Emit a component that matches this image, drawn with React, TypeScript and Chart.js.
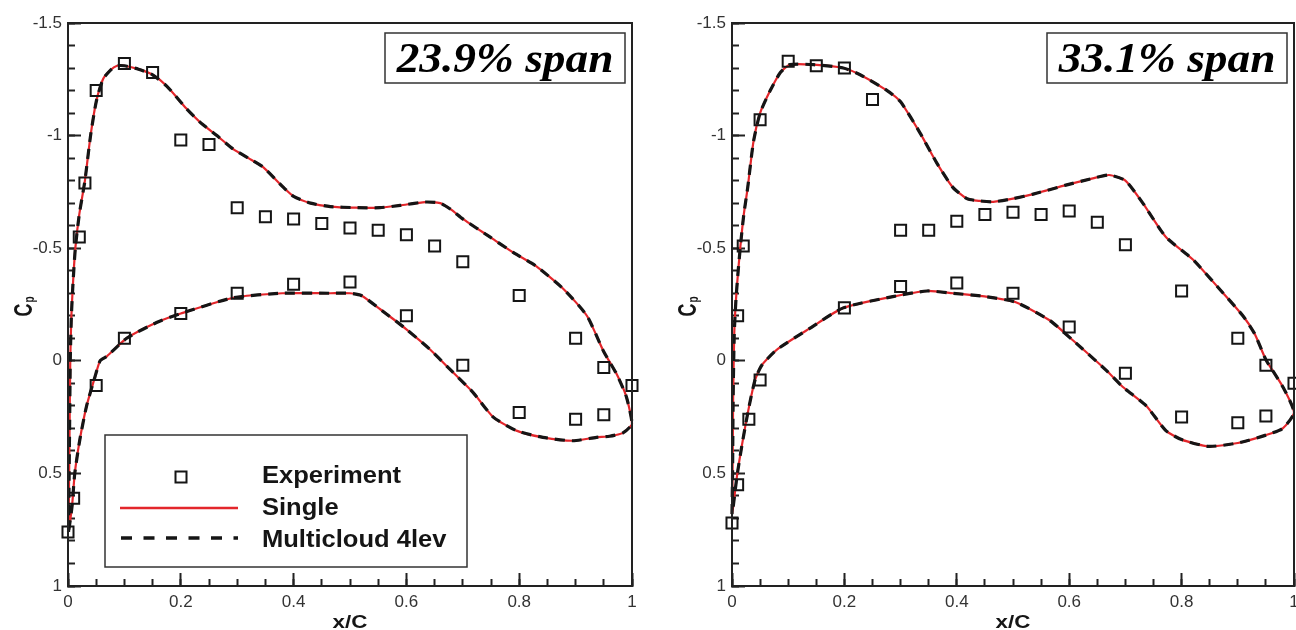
import React, { useEffect, useRef } from 'react';
import { Chart, registerables } from 'chart.js';

Chart.register(...registerables);

// ---------- axes ----------
const xMajorTicks = [0, 0.2, 0.4, 0.6, 0.8, 1];
const xTickLabels = ['0', '0.2', '0.4', '0.6', '0.8', '1'];
const xMinorTicks = [0, 0.05, 0.1, 0.15, 0.2, 0.25, 0.3, 0.35, 0.4, 0.45, 0.5, 0.55, 0.6, 0.65, 0.7, 0.75, 0.8, 0.85, 0.9, 0.95, 1];
const yMajorTicks = [-1.5, -1, -0.5, 0, 0.5, 1];
const yTickLabels = ['-1.5', '-1', '-0.5', '0', '0.5', '1'];
const yMinorTicks = [-1.5, -1.4, -1.3, -1.2, -1.1, -1, -0.9, -0.8, -0.7, -0.6, -0.5, -0.4, -0.3, -0.2, -0.1, 0, 0.1, 0.2, 0.3, 0.4, 0.5, 0.6, 0.7, 0.8, 0.9, 1];

const legendLabels = ['Experiment', 'Single', 'Multicloud 4lev'];
const panelTitles = ['23.9% span', '33.1% span'];
const xAxisTitle = 'x/C';

// ---------- 23.9% span ----------
const exp239X = [0.02, 0.03, 0.05, 0.1, 0.15, 0.2, 0.25, 0.3, 0.35, 0.4, 0.45, 0.5, 0.55, 0.6, 0.65, 0.7, 0.8, 0.9, 0.95, 1.0,
  0.0, 0.01, 0.05, 0.1, 0.2, 0.3, 0.4, 0.5, 0.6, 0.7, 0.8, 0.9, 0.95];
const exp239Cp = [-0.55, -0.79, -1.2, -1.32, -1.28, -0.98, -0.96, -0.68, -0.64, -0.63, -0.61, -0.59, -0.58, -0.56, -0.51, -0.44, -0.29, -0.1, 0.03, 0.11,
  0.76, 0.61, 0.11, -0.1, -0.21, -0.3, -0.34, -0.35, -0.2, 0.02, 0.23, 0.26, 0.24];

const single239X = [0.001, 0.002, 0.003, 0.004, 0.006, 0.009, 0.013, 0.02, 0.03, 0.04, 0.05, 0.062, 0.075, 0.087, 0.1, 0.125, 0.15, 0.175, 0.21, 0.234,
  0.264, 0.293, 0.32, 0.346, 0.382, 0.4, 0.43, 0.465, 0.51, 0.553, 0.589, 0.633, 0.66, 0.68, 0.7, 0.748, 0.79, 0.83, 0.878, 0.92,
  0.95, 0.973, 0.99, 1.0,
  0.984, 0.96, 0.937, 0.895, 0.842, 0.795, 0.754, 0.718, 0.672, 0.642, 0.6, 0.553, 0.52, 0.5, 0.465, 0.38, 0.293, 0.2, 0.157, 0.104,
  0.069, 0.057, 0.048, 0.033, 0.021, 0.012, 0.007, 0.001];
const single239Cp = [0.76, 0.5, 0.25, 0.0, -0.2, -0.35, -0.5, -0.65, -0.8, -1.0, -1.15, -1.25, -1.29, -1.31, -1.31, -1.295, -1.27, -1.22, -1.12, -1.06,
  -1.0, -0.94, -0.9, -0.86, -0.77, -0.73, -0.7, -0.685, -0.68, -0.68, -0.69, -0.705, -0.7, -0.67, -0.63, -0.55, -0.48, -0.42, -0.32, -0.2,
  -0.04, 0.06, 0.16, 0.28,
  0.32, 0.335, 0.34, 0.355, 0.34, 0.31, 0.25, 0.14, 0.025, -0.05, -0.14, -0.23, -0.29, -0.3, -0.3, -0.3, -0.28, -0.21, -0.17, -0.1,
  -0.02, 0.0, 0.07, 0.2, 0.35, 0.5, 0.65, 0.76];
const multi239X = single239X;
const multi239Cp = single239Cp;

// ---------- 33.1% span ----------
const exp331X = [0.01, 0.02, 0.05, 0.1, 0.15, 0.2, 0.25, 0.3, 0.35, 0.4, 0.45, 0.5, 0.55, 0.6, 0.65, 0.7, 0.8, 0.9, 0.95, 1.0,
  0.0, 0.01, 0.03, 0.05, 0.2, 0.3, 0.4, 0.5, 0.6, 0.7, 0.8, 0.9, 0.95];
const exp331Cp = [-0.2, -0.51, -1.07, -1.33, -1.31, -1.3, -1.16, -0.58, -0.58, -0.62, -0.65, -0.66, -0.65, -0.665, -0.615, -0.515, -0.31, -0.1, 0.02, 0.1,
  0.72, 0.55, 0.26, 0.085, -0.235, -0.33, -0.345, -0.3, -0.15, 0.055, 0.25, 0.275, 0.245];

const single331X = [0.0, 0.001, 0.002, 0.004, 0.007, 0.011, 0.015, 0.021, 0.028, 0.038, 0.05, 0.068, 0.086, 0.103, 0.145, 0.198, 0.228, 0.276, 0.3, 0.335,
  0.364, 0.393, 0.418, 0.441, 0.465, 0.5, 0.536, 0.594, 0.642, 0.671, 0.7, 0.731, 0.772, 0.82, 0.867, 0.909, 0.93, 0.95, 0.98, 1.0,
  0.98, 0.95, 0.9, 0.848, 0.8, 0.772, 0.737, 0.695, 0.665, 0.607, 0.565, 0.505, 0.452, 0.393, 0.347, 0.286, 0.198, 0.139, 0.08, 0.053,
  0.041, 0.029, 0.018, 0.009, 0.002, 0.0];
const single331Cp = [0.68, 0.5, 0.17, -0.12, -0.27, -0.4, -0.51, -0.65, -0.77, -0.97, -1.1, -1.2, -1.28, -1.315, -1.315, -1.3, -1.27, -1.2, -1.15, -1.01,
  -0.88, -0.77, -0.72, -0.71, -0.706, -0.72, -0.74, -0.78, -0.81, -0.825, -0.8, -0.7, -0.55, -0.45, -0.32, -0.2, -0.12, -0.005, 0.115, 0.23,
  0.3, 0.33, 0.365, 0.38, 0.35, 0.31, 0.2, 0.115, 0.04, -0.09, -0.18, -0.26, -0.285, -0.3, -0.31, -0.285, -0.235, -0.145, -0.05, 0.02,
  0.085, 0.22, 0.37, 0.51, 0.65, 0.68];
const multi331X = single331X;
const multi331Cp = single331Cp;

// ---------- styling ----------
const RED = '#e3262b';
const INK = '#151515';
const SANS = '"Liberation Sans", Arial, sans-serif';
const SERIF = '"Liberation Serif", "Times New Roman", serif';

const toPts = (xs: number[], ys: number[]) => xs.map((x, i) => ({ x, y: ys[i] }));

function stretchText(ctx: CanvasRenderingContext2D, text: string, x: number, y: number, sx: number, align: CanvasTextAlign) {
  ctx.save();
  ctx.translate(x, y);
  ctx.scale(sx, 1);
  ctx.textAlign = align;
  ctx.fillText(text, 0, 0);
  ctx.restore();
}

type PanelCfg = {
  left: number;
  yAxisWidth: number;
  rightPad: number;
  title: string;
  legend: boolean;
  expX: number[]; expCp: number[];
  singleX: number[]; singleCp: number[];
  multiX: number[]; multiCp: number[];
};

const panels: PanelCfg[] = [
  { left: 0, yAxisWidth: 68, rightPad: 16, title: panelTitles[0], legend: true,
    expX: exp239X, expCp: exp239Cp, singleX: single239X, singleCp: single239Cp, multiX: multi239X, multiCp: multi239Cp },
  { left: 648, yAxisWidth: 84, rightPad: 2, title: panelTitles[1], legend: false,
    expX: exp331X, expCp: exp331Cp, singleX: single331X, singleCp: single331Cp, multiX: multi331X, multiCp: multi331Cp },
];

function makeConfig(p: PanelCfg): any {
  const overlay = {
    id: 'overlay',
    afterDraw(chart: any) {
      const { ctx, chartArea: a } = chart;
      ctx.save();
      // frame
      ctx.strokeStyle = '#222';
      ctx.lineWidth = 2;
      ctx.strokeRect(a.left, a.top, a.right - a.left, a.bottom - a.top);

      // x title
      ctx.fillStyle = INK;
      ctx.textBaseline = 'alphabetic';
      ctx.font = `bold 19px ${SANS}`;
      stretchText(ctx, xAxisTitle, (a.left + a.right) / 2, a.bottom + 42, 1.18, 'center');

      // y title C_p (rotated)
      ctx.save();
      ctx.translate(a.left - 36, (a.top + a.bottom) / 2 + 12);
      ctx.rotate(-Math.PI / 2);
      ctx.scale(1, 1.45);
      ctx.textAlign = 'left';
      ctx.font = `bold 18px ${SANS}`;
      ctx.fillText('C', 0, 0);
      const cw = ctx.measureText('C').width;
      ctx.font = `bold 10px ${SANS}`;
      ctx.fillText('p', cw + 1, 1.5);
      ctx.restore();

      // title box
      const bw = 240, bh = 50;
      const bx = a.right - 7 - bw, by = a.top + 10;
      ctx.fillStyle = '#fff';
      ctx.fillRect(bx, by, bw, bh);
      ctx.strokeStyle = '#333';
      ctx.lineWidth = 1.5;
      ctx.strokeRect(bx, by, bw, bh);
      ctx.fillStyle = '#000';
      ctx.font = `italic bold 42px ${SERIF}`;
      stretchText(ctx, p.title, bx + bw / 2, by + 39, 1.08, 'center');

      // legend
      if (p.legend) {
        const L = a.left, B = a.bottom;
        ctx.fillStyle = '#fff';
        ctx.fillRect(L + 37, B - 151, 362, 132);
        ctx.strokeStyle = '#333';
        ctx.lineWidth = 1.5;
        ctx.strokeRect(L + 37, B - 151, 362, 132);
        // marker
        ctx.strokeStyle = INK;
        ctx.lineWidth = 2;
        ctx.strokeRect(L + 113 - 5.5, B - 109 - 5.5, 11, 11);
        // red solid
        ctx.strokeStyle = RED;
        ctx.lineWidth = 2.5;
        ctx.beginPath();
        ctx.moveTo(L + 52, B - 78);
        ctx.lineTo(L + 170, B - 78);
        ctx.stroke();
        // black dashed
        ctx.strokeStyle = INK;
        ctx.lineWidth = 3.5;
        ctx.setLineDash([11, 11.5]);
        ctx.beginPath();
        ctx.moveTo(L + 53, B - 48);
        ctx.lineTo(L + 170, B - 48);
        ctx.stroke();
        ctx.setLineDash([]);
        // labels
        ctx.fillStyle = INK;
        ctx.font = `bold 23px ${SANS}`;
        stretchText(ctx, legendLabels[0], L + 194, B - 103, 1.11, 'left');
        stretchText(ctx, legendLabels[1], L + 194, B - 71, 1.11, 'left');
        stretchText(ctx, legendLabels[2], L + 194, B - 39, 1.11, 'left');
      }
      ctx.restore();
    },
  };

  const tickFont = { family: SANS, size: 17 };

  return {
    type: 'scatter',
    data: {
      datasets: [
        {
          label: legendLabels[0],
          data: toPts(p.expX, p.expCp),
          pointStyle: 'rect',
          pointRadius: 7.8,
          pointHoverRadius: 7.8,
          borderColor: INK,
          backgroundColor: 'rgba(0,0,0,0)',
          borderWidth: 2,
          showLine: false,
          clip: false,
          order: 0,
        },
        {
          label: legendLabels[2],
          data: toPts(p.multiX, p.multiCp),
          showLine: true,
          borderColor: INK,
          borderWidth: 3.2,
          borderDash: [10, 7],
          pointRadius: 0,
          tension: 0.2,
          clip: false,
          order: 1,
        },
        {
          label: legendLabels[1],
          data: toPts(p.singleX, p.singleCp),
          showLine: true,
          borderColor: RED,
          borderWidth: 2.2,
          pointRadius: 0,
          tension: 0.2,
          clip: false,
          order: 2,
        },
      ],
    },
    options: {
      animation: false,
      responsive: false,
      devicePixelRatio: 1,
      layout: { autoPadding: false, padding: { left: 0, top: 23, right: p.rightPad, bottom: 0 } },
      plugins: { legend: { display: false }, tooltip: { enabled: false } },
      events: [],
      scales: {
        x: {
          type: 'linear', axis: 'x', position: 'bottom', min: 0, max: 1, weight: 1,
          afterBuildTicks: (s: any) => { s.ticks = xMajorTicks.map((v) => ({ value: v })); },
          afterFit: (s: any) => { s.height = 44; s.paddingLeft = 0; s.paddingRight = 0; },
          ticks: {
            autoSkip: false, maxRotation: 0, padding: 19, color: '#333', font: tickFont,
            callback: (v: number) => { const i = xMajorTicks.indexOf(v); return i >= 0 ? xTickLabels[i] : ''; },
          },
          grid: { drawOnChartArea: false, drawTicks: true, tickLength: -13, tickWidth: 2, tickColor: '#222' },
          border: { display: true, color: '#222', width: 2 },
        },
        xMinor: {
          type: 'linear', axis: 'x', position: 'bottom', min: 0, max: 1, weight: 0,
          afterBuildTicks: (s: any) => { s.ticks = xMinorTicks.map((v) => ({ value: v })); },
          afterFit: (s: any) => { s.height = 0; s.paddingLeft = 0; s.paddingRight = 0; },
          ticks: { display: false, autoSkip: false },
          grid: { drawOnChartArea: false, drawTicks: true, tickLength: -7, tickWidth: 2, tickColor: '#222' },
          border: { display: false },
        },
        y: {
          type: 'linear', axis: 'y', position: 'left', min: -1.5, max: 1, reverse: true, weight: 1,
          afterBuildTicks: (s: any) => { s.ticks = yMajorTicks.map((v) => ({ value: v })); },
          afterFit: (s: any) => { s.width = p.yAxisWidth; s.paddingTop = 0; s.paddingBottom = 0; },
          ticks: {
            autoSkip: false, padding: 19, color: '#333', font: tickFont,
            callback: (v: number) => { const i = yMajorTicks.indexOf(v); return i >= 0 ? yTickLabels[i] : ''; },
          },
          grid: { drawOnChartArea: false, drawTicks: true, tickLength: -13, tickWidth: 2, tickColor: '#222' },
          border: { display: true, color: '#222', width: 2 },
        },
        yMinor: {
          type: 'linear', axis: 'y', position: 'left', min: -1.5, max: 1, reverse: true, weight: 0,
          afterBuildTicks: (s: any) => { s.ticks = yMinorTicks.map((v) => ({ value: v })); },
          afterFit: (s: any) => { s.width = 0; s.paddingTop = 0; s.paddingBottom = 0; },
          ticks: { display: false, autoSkip: false },
          grid: { drawOnChartArea: false, drawTicks: true, tickLength: -7, tickWidth: 2, tickColor: '#222' },
          border: { display: false },
        },
      },
    },
    plugins: [overlay],
  };
}

function Panel({ cfg }: { cfg: PanelCfg }) {
  const ref = useRef<HTMLCanvasElement | null>(null);
  useEffect(() => {
    if (!ref.current) return;
    const chart = new Chart(ref.current, makeConfig(cfg));
    return () => chart.destroy();
  }, [cfg]);
  return (
    <canvas
      ref={ref}
      width={648}
      height={630}
      style={{ position: 'absolute', left: cfg.left, top: 0, width: 648, height: 630, display: 'block' }}
    />
  );
}

export default function App() {
  return (
    <div style={{ position: 'fixed', left: 0, top: 0, width: 1296, height: 630, background: '#fff', overflow: 'hidden' }}>
      {panels.map((p, i) => (
        <Panel key={i} cfg={p} />
      ))}
    </div>
  );
}
